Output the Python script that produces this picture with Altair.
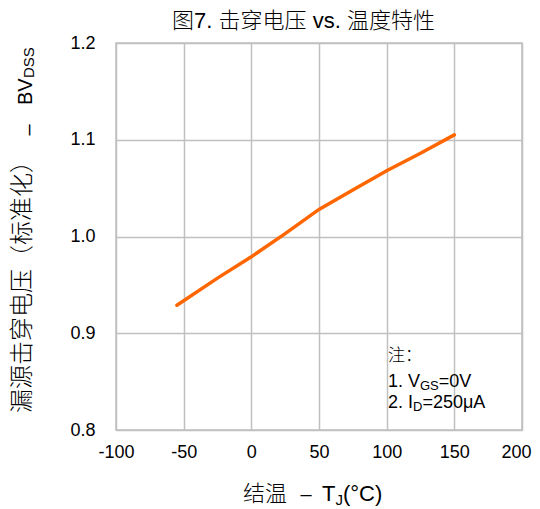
import altair as alt
import pandas as pd

# ---- data ----
temps = [-55, -25, 0, 25, 50, 75, 100, 125, 150]
bvdss = [0.929, 0.957, 0.979, 1.003, 1.028, 1.048, 1.068, 1.086, 1.105]

x_ticks = [-100, -50, 0, 50, 100, 150, 200]
y_ticks = [0.8, 0.9, 1.0, 1.1, 1.2]

title_text = "图7. 击穿电压 vs. 温度特性"
y_title_parts = ["漏源击穿电压（标准化）", "–", "BV", "DSS"]
x_title_parts = ["结温", "–", "T", "J", "(°C)"]
note_lines = ["注：", "1. V", "GS", "=0V", "2. I", "D", "=250μA"]

FONT = "Liberation Sans, Noto Sans CJK SC"

df = pd.DataFrame({"T": temps, "BV": bvdss})


def txt(s, x, y, size, align="left", angle=0, baseline="alphabetic"):
    return alt.Chart(pd.DataFrame({"t": [s]})).mark_text(
        align=align, baseline=baseline, angle=angle, fontSize=size,
        font=FONT, fontWeight=300, color="black"
    ).encode(x=alt.value(x), y=alt.value(y), text="t:N")


line = alt.Chart(df).mark_line(
    color="#FF6600", strokeWidth=3.5, strokeCap="round"
).encode(
    x=alt.X("T:Q", scale=alt.Scale(domain=[-100, 200], nice=False),
            axis=alt.Axis(values=x_ticks, title=None, labelPadding=13,
                          labelFlush=False,
                          labelOffset={"condition": {"test": "datum.value == 200", "value": -6}, "value": 0},
                          labelExpr="toString(datum.value)")),
    y=alt.Y("BV:Q", scale=alt.Scale(domain=[0.8, 1.2], nice=False),
            axis=alt.Axis(values=y_ticks, format=".1f", title=None, labelPadding=21)),
)

layers = [line]
# title
layers.append(txt(title_text, 187.5, -15, 22, align="center"))
# y-axis title (rotated)
layers.append(txt(y_title_parts[0], -86, 370, 24, angle=270))
layers.append(txt(y_title_parts[1], -87, 87, 20, align="center", angle=270, baseline="middle"))
layers.append(txt(y_title_parts[2], -84, 62, 20, angle=270))
layers.append(txt(y_title_parts[3], -82, 35, 15, angle=270))
# x-axis title
layers.append(txt(x_title_parts[0], 127, 458, 22))
layers.append(txt(x_title_parts[1], 190, 452, 20, align="center", baseline="middle"))
layers.append(txt(x_title_parts[2], 206, 458, 22))
layers.append(txt(x_title_parts[3], 219.5, 462, 15))
layers.append(txt(x_title_parts[4], 227, 458, 22))
# notes
layers.append(txt(note_lines[0], 272, 318, 17))
layers.append(txt(note_lines[1], 272, 344, 18))
layers.append(txt(note_lines[2], 304, 347, 13))
layers.append(txt(note_lines[3], 322.8, 344, 18))
layers.append(txt(note_lines[4], 272, 365, 18))
layers.append(txt(note_lines[5], 297, 368, 13))
layers.append(txt(note_lines[6], 306.4, 365, 18))

chart = alt.layer(*layers).properties(
    width=406, height=387,
    background="white",
    autosize=alt.AutoSizeParams(type="none"),
    padding={"left": 108, "top": 35, "right": 10, "bottom": 90},
).configure_view(
    stroke="#c0c0c0", strokeWidth=1.5
).configure_axis(
    grid=True, gridColor="#c0c0c0", gridWidth=1.5, domain=False, ticks=False,
    labelFont="Liberation Sans", labelFontSize=18, labelColor="black",
)

chart.save("out.html", embed_options={"renderer": "svg", "actions": False})
